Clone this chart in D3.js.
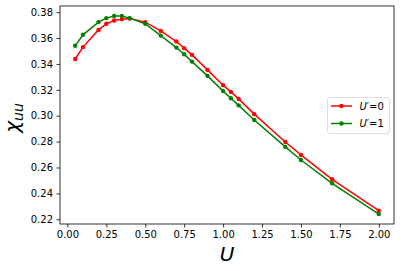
<!DOCTYPE html>
<html>
<head>
<meta charset="utf-8">
<script src="https://cdn.jsdelivr.net/npm/d3@7"></script>
<style>
  body { margin: 0; background: #fff; }
  text { font-family: "DejaVu Sans", sans-serif; }
</style>
</head>
<body>
<div id="chart"></div>
<script>
var uVals = [0.05, 0.1, 0.2, 0.25, 0.3, 0.35, 0.4, 0.5, 0.6, 0.7, 0.75, 0.8, 0.9, 1.0, 1.05, 1.1, 1.2, 1.4, 1.5, 1.7, 2.0];
var chiU0 = [0.3438, 0.3530, 0.3663, 0.3710, 0.3735, 0.3746, 0.3751, 0.3723, 0.3655, 0.3573, 0.3522, 0.3470, 0.3354, 0.3236, 0.3184, 0.3130, 0.3012, 0.2797, 0.2697, 0.2509, 0.2266];
var chiU1 = [0.3540, 0.3625, 0.3723, 0.3754, 0.3771, 0.3771, 0.3754, 0.3710, 0.3619, 0.3526, 0.3475, 0.3418, 0.3308, 0.3190, 0.3135, 0.3080, 0.2967, 0.2759, 0.2658, 0.2478, 0.2240];
var xTicks = [0, 0.25, 0.5, 0.75, 1.0, 1.25, 1.5, 1.75, 2.0];
var yTicks = [0.22, 0.24, 0.26, 0.28, 0.30, 0.32, 0.34, 0.36, 0.38];
var seriesNames = ['0', '1'];
var seriesColors = ['#ff0000', '#008000'];

var width = 401, height = 271;
var margin = {left: 60, top: 6, right: 7, bottom: 47};

var svg = d3.select('#chart').append('svg')
  .attr('width', width).attr('height', height);

svg.append('rect').attr('width', width).attr('height', height).attr('fill', '#fff');

// matplotlib-style 5% margins around the data
var xmin = d3.min(uVals), xmax = d3.max(uVals);
var allY = chiU0.concat(chiU1);
var ymin = d3.min(allY), ymax = d3.max(allY);
var xpad = (xmax - xmin) * 0.05, ypad = (ymax - ymin) * 0.05;

var x = d3.scaleLinear().domain([xmin - xpad, xmax + xpad]).range([margin.left, width - margin.right]);
var y = d3.scaleLinear().domain([ymin - ypad, ymax + ypad]).range([height - margin.bottom, margin.top]);

var xAxis = svg.append('g')
  .attr('transform', 'translate(0,' + (height - margin.bottom) + ')')
  .call(d3.axisBottom(x).tickValues(xTicks).tickFormat(d3.format('.2f')).tickSizeOuter(0).tickSize(3.5).tickPadding(3.5));
var yAxis = svg.append('g')
  .attr('transform', 'translate(' + margin.left + ',0)')
  .call(d3.axisLeft(y).tickValues(yTicks).tickFormat(d3.format('.2f')).tickSizeOuter(0).tickSize(3.5).tickPadding(3.5));

[xAxis, yAxis].forEach(function(g) {
  g.select('.domain').remove();
  g.selectAll('.tick line').attr('stroke', '#000').attr('stroke-width', 0.8);
  g.selectAll('.tick text').attr('fill', '#000').attr('font-size', '10px')
    .attr('font-family', '"DejaVu Sans", sans-serif');
});

var series = [chiU0, chiU1];
var line = d3.line()
  .x(function(d) { return x(d[0]); })
  .y(function(d) { return y(d[1]); });

series.forEach(function(vals, k) {
  var pts = uVals.map(function(u, i) { return [u, vals[i]]; });
  svg.append('path').datum(pts)
    .attr('d', line)
    .attr('fill', 'none')
    .attr('stroke', seriesColors[k])
    .attr('stroke-width', 1.5);
  svg.selectAll('.pt' + k).data(pts).enter().append('circle')
    .attr('class', 'pt' + k)
    .attr('cx', function(d) { return x(d[0]); })
    .attr('cy', function(d) { return y(d[1]); })
    .attr('r', 2.2)
    .attr('fill', seriesColors[k]);
});

// frame
svg.append('rect')
  .attr('x', margin.left).attr('y', margin.top)
  .attr('width', width - margin.left - margin.right)
  .attr('height', height - margin.top - margin.bottom)
  .attr('fill', 'none').attr('stroke', '#000').attr('stroke-width', 0.8);

// axis labels
svg.append('text')
  .attr('x', (margin.left + width - margin.right) / 2)
  .attr('y', 261)
  .attr('text-anchor', 'middle')
  .attr('font-size', '20px')
  .attr('font-style', 'italic')
  .text('U');

var ylab = svg.append('text')
  .attr('transform', 'translate(19,' + ((margin.top + height - margin.bottom) / 2 + 3) + ') rotate(-90)')
  .attr('text-anchor', 'middle')
  .attr('font-size', '20px')
  .attr('font-style', 'italic');
ylab.append('tspan').text('χ');
ylab.append('tspan').attr('font-size', '14px').attr('dy', 4).text('uu');

// legend
var lg = svg.append('g').attr('transform', 'translate(327.5,97.5)');
lg.append('rect').attr('width', 62).attr('height', 36).attr('rx', 2.5)
  .attr('fill', '#fff').attr('fill-opacity', 0.8)
  .attr('stroke', '#d6d6d6').attr('stroke-width', 0.8);
seriesNames.forEach(function(name, k) {
  var yy = 8.5 + k * 17.5;
  lg.append('line').attr('x1', 3.5).attr('x2', 24.5).attr('y1', yy).attr('y2', yy)
    .attr('stroke', seriesColors[k]).attr('stroke-width', 1.5);
  lg.append('circle').attr('cx', 14).attr('cy', yy).attr('r', 2.2).attr('fill', seriesColors[k]);
  var t = lg.append('text').attr('x', 32).attr('y', yy + 3.6).attr('font-size', '10px');
  t.append('tspan').attr('font-style', 'italic').text('U');
  t.append('tspan').text('′=' + name);
});
</script>
</body>
</html>
